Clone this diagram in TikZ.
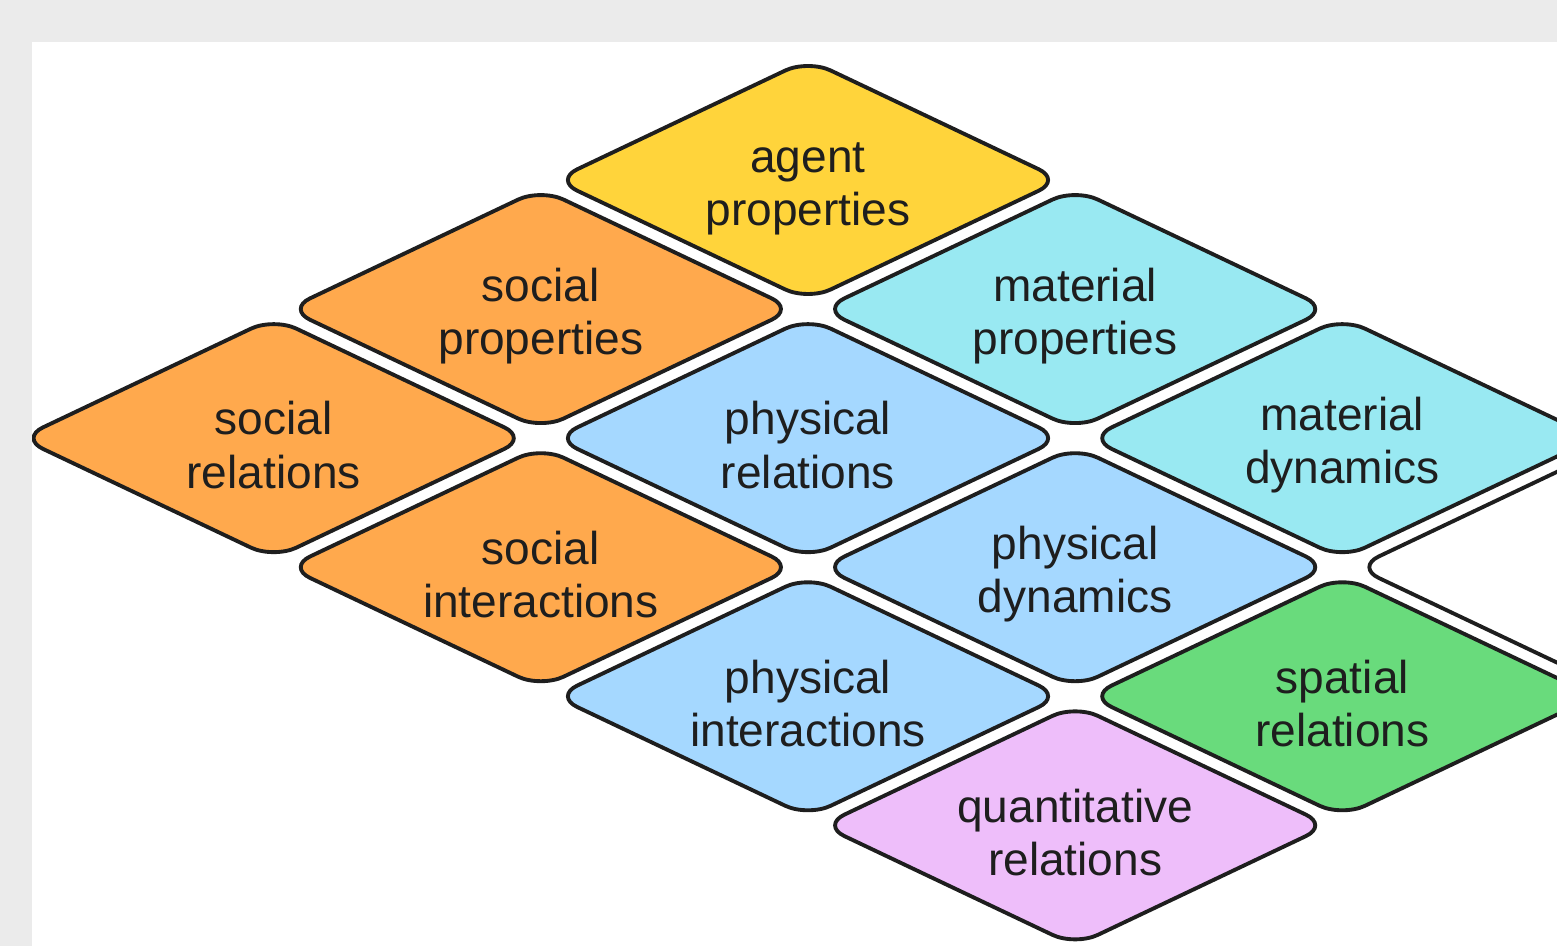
\documentclass[tikz,border=0pt]{standalone}
\usepackage{fontspec}
\setmainfont{Liberation Sans}
\usetikzlibrary{shapes.geometric,positioning}

\definecolor{pagegray}{HTML}{EBEBEB}
\definecolor{ink}{HTML}{1E1E1E}
\definecolor{agentyellow}{HTML}{FFD43B}
\definecolor{socialorange}{HTML}{FFA94D}
\definecolor{materialcyan}{HTML}{99E9F2}
\definecolor{physicalblue}{HTML}{A5D8FF}
\definecolor{spatialgreen}{HTML}{69DB7C}
\definecolor{quantgrape}{HTML}{EEBEFA}

% two-line tile label, sitting a little low like the original sketch
\newcommand\twolines[2]{\rule{0pt}{13.5pt}#1\\#2}

\begin{document}
\begin{tikzpicture}[x=0.01cm,y=-0.01cm,
    node distance=1.29cm and 2.67cm,on grid,
    tile/.style={diamond,shape aspect=2.1,draw=ink,line width=1.1pt,
        rounded corners=0.25cm,minimum width=5.08cm,minimum height=2.42cm,
        inner sep=0pt,align=center,text=ink,
        font=\fontsize{13.1}{15.2}\selectfont}]
    \useasboundingbox (0,0) rectangle (1557,946);
    % gray frame and white canvas
    \fill[pagegray] (0,0) rectangle (1557,946);
    \fill[white] (32,42) rectangle (1557,946);
    \clip (32,42) rectangle (1557,946);

    \node[tile,fill=agentyellow] (agent) at (808,180) {\twolines{agent}{properties}};
    \node[tile,fill=socialorange] (socprop) [below left=of agent] {\twolines{social}{properties}};
    \node[tile,fill=materialcyan] (matprop) [below right=of agent] {\twolines{material}{properties}};
    \node[tile,fill=socialorange] (socrel) [below left=of socprop] {\twolines{social}{relations}};
    \node[tile,fill=physicalblue] (physrel) [below right=of socprop] {\twolines{physical}{relations}};
    \node[tile,fill=materialcyan] (matdyn) [below right=of matprop] {\twolines{material}{dynamics}};
    \node[tile,fill=socialorange] (socint) [below right=of socrel] {\twolines{social}{interactions}};
    \node[tile,fill=physicalblue] (physdyn) [below right=of physrel] {\twolines{physical}{dynamics}};
    \node[tile,fill=white] (blank) [below right=of matdyn] {};
    \node[tile,fill=physicalblue] (physint) [below right=of socint] {\twolines{physical}{interactions}};
    \node[tile,fill=spatialgreen] (spatrel) [below right=of physdyn] {\twolines{spatial}{relations}};
    \node[tile,fill=quantgrape] (quantrel) [below right=of physint] {\twolines{quantitative}{relations}};
\end{tikzpicture}
\end{document}
